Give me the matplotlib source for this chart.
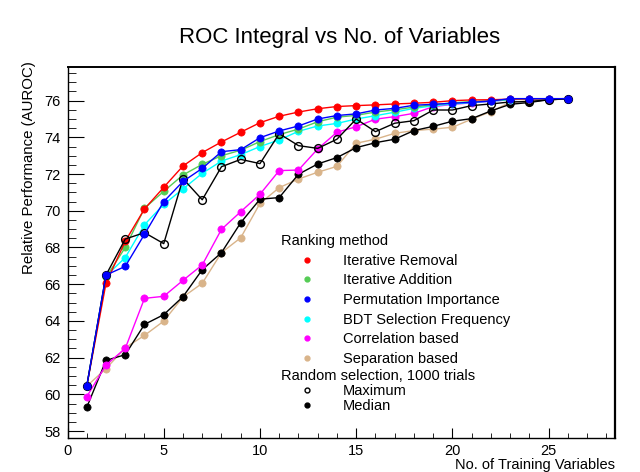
import numpy as np
import matplotlib
matplotlib.use("Agg")
import matplotlib.pyplot as plt
from matplotlib.lines import Line2D

plt.rcParams['font.family'] = ['Liberation Sans', 'DejaVu Sans']

# number of training variables
nvars = list(range(1, 27))

# AUROC for each ranking method
iter_removal = [60.45, 66.05, 68.34, 70.10, 71.28, 72.44, 73.17, 73.75, 74.28, 74.80,
                75.15, 75.38, 75.56, 75.68, 75.73, 75.77, 75.82, 75.86, 75.91, 76.00,
                76.04, 76.05, 76.08, 76.10, 76.10, 76.11]
iter_addition = [60.45, 66.38, 68.00, 70.14, 71.06, 71.95, 72.53, 73.00, 73.30, 73.77,
                 74.15, 74.45, 74.85, 75.10, 75.20, 75.38, 75.50, 75.65, 75.78, 75.88,
                 75.95, 76.00, 76.08, 76.10, 76.10, 76.11]
perm_importance = [60.45, 66.50, 66.97, 68.72, 70.50, 71.60, 72.31, 73.22, 73.33, 73.98,
                   74.35, 74.62, 75.00, 75.19, 75.28, 75.49, 75.58, 75.75, 75.80, 75.86,
                   75.91, 75.98, 76.11, 76.11, 76.11, 76.11]
bdt_frequency = [60.45, 66.45, 67.45, 69.24, 70.35, 71.19, 72.04, 72.71, 73.06, 73.50,
                 73.86, 74.33, 74.62, 74.76, 75.00, 75.18, 75.37, 75.58, 75.72, 75.82,
                 75.90, 75.97, 76.05, 76.10, 76.10, 76.11]
correlation = [59.87, 61.60, 62.50, 65.23, 65.34, 66.21, 67.05, 68.99, 69.95, 70.90,
               72.19, 72.22, 73.37, 74.28, 74.58, 74.99, 75.13, 75.31, 75.67, 75.80,
               75.88, 75.97, 76.05, 76.10, 76.10, 76.11]
separation = [60.45, 61.40, 62.54, 63.21, 63.99, 65.30, 66.05, 67.72, 68.53, 70.40,
              71.26, 71.73, 72.10, 72.42, 73.68, 73.90, 74.22, 74.37, 74.45, 74.55,
              74.99, 75.40, 75.91, 76.00, 76.04, 76.10]

# random selection, 1000 trials
random_max = [60.45, 66.50, 68.46, 68.81, 68.21, 71.75, 70.60, 72.40, 72.80, 72.57,
              74.20, 73.55, 73.40, 73.90, 75.00, 74.31, 74.77, 74.91, 75.49, 75.49,
              75.73, 75.82, 75.93, 75.95, 76.05, 76.10]
random_median = [59.29, 61.85, 62.16, 63.81, 64.34, 65.32, 66.79, 67.72, 69.35, 70.63,
                 70.72, 71.99, 72.55, 72.90, 73.44, 73.71, 73.90, 74.37, 74.60, 74.88,
                 75.02, 75.44, 75.80, 75.90, 76.05, 76.10]

fig = plt.figure(figsize=(6.4, 4.72), dpi=100)
ax = fig.add_axes([0.1055, 0.072, 0.8555, 0.7867])

ms = 5.2
lw = 1.0
kw = dict(ms=ms, lw=lw, mew=0.5)
ax.plot(nvars, separation, '-o', color='#d9b48a', **kw)
ax.plot(nvars, random_median, '-o', color='black', **kw)
ax.plot(nvars, correlation, '-o', color='#ff00ff', **kw)
ax.plot(nvars, bdt_frequency, '-o', color='#00ffff', **kw)
ax.plot(nvars, iter_addition, '-o', color='#55cc55', **kw)
ax.plot(nvars, iter_removal, '-o', color='#ff0000', **kw)
ax.plot(nvars, random_max, '-o', color='black', mfc='none', ms=5.6, lw=lw, mew=1.0)
ax.plot(nvars, perm_importance, '-o', color='#0000ff', **kw)

ax.set_xlim(0, 28.45)
ax.set_ylim(57.62, 77.85)
ax.set_xticks([0, 5, 10, 15, 20, 25])
ax.set_xticks(np.arange(0, 29), minor=True)
ax.set_yticks(np.arange(58, 77, 2))
ax.set_yticks(np.arange(58, 78, 0.5), minor=True)
ax.tick_params(axis='both', which='both', direction='in', top=False, right=False,
               labelsize=10.5)
ax.tick_params(axis='y', which='major', length=11.5, pad=5)
ax.tick_params(axis='y', which='minor', length=5.8)
ax.tick_params(axis='x', which='major', length=7.2, pad=4.5)
ax.tick_params(axis='x', which='minor', length=3.6)
for s in ax.spines.values():
    s.set_linewidth(1.0)
ax.spines['right'].set_linewidth(1.6)
ax.spines['top'].set_linewidth(1.4)

ax.set_xlabel('No. of Training Variables', fontsize=10.5, loc='right')
ax.xaxis.set_label_coords(1.0, -0.053)
ax.set_ylabel('Relative Performance (AUROC)', fontsize=10.8, loc='top')
ax.yaxis.set_label_coords(-0.0575, 1.016)

fig.text(0.531, 1 - 38 / 472, 'ROC Integral vs No. of Variables', fontsize=16,
         ha='center', va='center')

# legends
rank_names = ['Iterative Removal', 'Iterative Addition', 'Permutation Importance',
              'BDT Selection Frequency', 'Correlation based', 'Separation based']
rank_colors = ['#ff0000', '#55cc55', '#0000ff', '#00ffff', '#ff00ff', '#d9b48a']
h1 = [Line2D([], [], ls='none')]
h1 += [Line2D([], [], ls='none', marker='o', color=c, ms=3.5) for c in rank_colors]
l1 = ['Ranking method'] + rank_names

h2 = [Line2D([], [], ls='none'),
      Line2D([], [], ls='none', marker='o', color='black', mfc='none', ms=3.5),
      Line2D([], [], ls='none', marker='o', color='black', ms=3.5)]
l2 = ['Random selection, 1000 trials', 'Maximum', 'Median']


def make_legend(handles, labels, top, spacing):
    leg = ax.legend(handles, labels, loc='upper left',
                    bbox_to_anchor=(280.7 / 640, 1 - top / 472),
                    bbox_transform=fig.transFigure, frameon=False, borderpad=0,
                    borderaxespad=0, fontsize=10.5, handlelength=3.65,
                    handletextpad=0.6, labelspacing=spacing)
    # header row: no handle, text starts at the left edge
    row = leg._legend_handle_box.get_children()[0].get_children()[0]
    row.get_children()[0].width = 0
    row.sep = 0
    return leg


leg1 = make_legend(h1, l1, 234, 0.39)
ax.add_artist(leg1)
leg2 = make_legend(h2, l2, 369, 0.06)

fig.savefig('out.png', dpi=100)
